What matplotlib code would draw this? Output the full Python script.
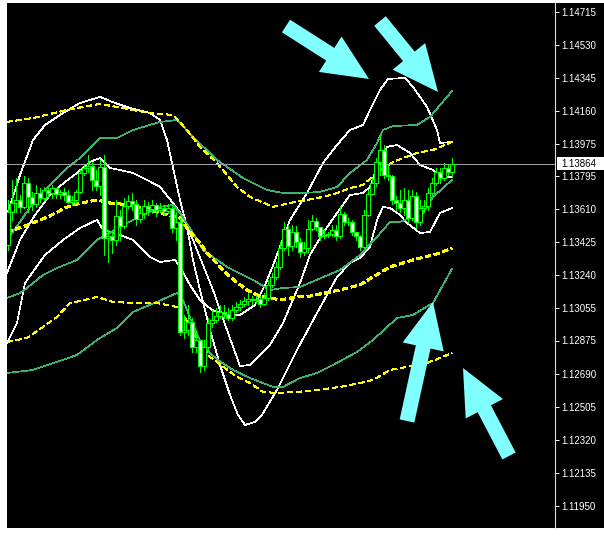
import numpy as np
import matplotlib
matplotlib.use('Agg')
import matplotlib.pyplot as plt
from matplotlib.patches import Rectangle, FancyArrow
from matplotlib.transforms import blended_transform_factory

# candles, one per bar (prices)
opens = [1.13410, 1.13595, 1.13645, 1.13662, 1.13623, 1.13757, 1.13679, 1.13640, 1.13701, 1.13673,
         1.13718, 1.13701, 1.13729, 1.13696, 1.13707, 1.13690, 1.13651, 1.13662, 1.13707, 1.13813,
         1.13841, 1.13852, 1.13774, 1.13740, 1.13847, 1.13449, 1.13460, 1.13438, 1.13572, 1.13516,
         1.13628, 1.13656, 1.13640, 1.13556, 1.13589, 1.13628, 1.13612, 1.13634, 1.13606, 1.13617,
         1.13600, 1.13617, 1.13505, 1.13539, 1.12923, 1.12934, 1.12979, 1.12839, 1.12878, 1.12732,
         1.12839, 1.12973, 1.12990, 1.13012, 1.13035, 1.13024, 1.13001, 1.13046, 1.13063, 1.13080,
         1.13096, 1.13108, 1.13102, 1.13108, 1.13080, 1.13113, 1.13186, 1.13231, 1.13287, 1.13393,
         1.13500, 1.13404, 1.13483, 1.13427, 1.13371, 1.13393, 1.13500, 1.13544, 1.13511, 1.13460,
         1.13466, 1.13472, 1.13494, 1.13460, 1.13584, 1.13539, 1.13539, 1.13483, 1.13460, 1.13399,
         1.13578, 1.13696, 1.13757, 1.13875, 1.13942, 1.13802, 1.13796, 1.13662, 1.13645, 1.13617,
         1.13662, 1.13561, 1.13684, 1.13539, 1.13617, 1.13628, 1.13701, 1.13757, 1.13819, 1.13785,
         1.13841, 1.13819]
closes = [1.13595, 1.13645, 1.13662, 1.13623, 1.13757, 1.13679, 1.13640, 1.13701, 1.13673, 1.13718,
          1.13701, 1.13729, 1.13696, 1.13707, 1.13690, 1.13651, 1.13662, 1.13707, 1.13813, 1.13841,
          1.13852, 1.13774, 1.13740, 1.13847, 1.13449, 1.13460, 1.13438, 1.13572, 1.13516, 1.13628,
          1.13656, 1.13640, 1.13556, 1.13589, 1.13628, 1.13612, 1.13634, 1.13606, 1.13617, 1.13600,
          1.13617, 1.13505, 1.13539, 1.12923, 1.12934, 1.12979, 1.12839, 1.12878, 1.12732, 1.12839,
          1.12973, 1.12990, 1.13012, 1.13035, 1.13024, 1.13001, 1.13046, 1.13063, 1.13080, 1.13096,
          1.13108, 1.13102, 1.13108, 1.13080, 1.13113, 1.13186, 1.13231, 1.13287, 1.13393, 1.13500,
          1.13404, 1.13483, 1.13427, 1.13371, 1.13393, 1.13500, 1.13544, 1.13511, 1.13460, 1.13466,
          1.13472, 1.13494, 1.13460, 1.13584, 1.13539, 1.13539, 1.13483, 1.13460, 1.13399, 1.13578,
          1.13696, 1.13757, 1.13875, 1.13942, 1.13802, 1.13796, 1.13662, 1.13645, 1.13617, 1.13662,
          1.13561, 1.13684, 1.13539, 1.13617, 1.13628, 1.13701, 1.13757, 1.13819, 1.13785, 1.13841,
          1.13819, 1.13864]
highs = [1.13662, 1.13774, 1.13785, 1.13690, 1.13796, 1.13785, 1.13707, 1.13746, 1.13729, 1.13735,
         1.13735, 1.13746, 1.13718, 1.13718, 1.13729, 1.13718, 1.13684, 1.13718, 1.13830, 1.13858,
         1.13914, 1.13875, 1.13830, 1.13886, 1.13914, 1.13494, 1.13483, 1.13662, 1.13606, 1.13673,
         1.13690, 1.13701, 1.13662, 1.13617, 1.13662, 1.13651, 1.13662, 1.13645, 1.13645, 1.13634,
         1.13640, 1.13628, 1.13595, 1.13561, 1.13018, 1.13074, 1.13001, 1.12934, 1.12850, 1.12878,
         1.13001, 1.13046, 1.13057, 1.13074, 1.13074, 1.13057, 1.13074, 1.13091, 1.13102, 1.13119,
         1.13141, 1.13124, 1.13130, 1.13124, 1.13141, 1.13214, 1.13253, 1.13315, 1.13427, 1.13539,
         1.13522, 1.13522, 1.13516, 1.13449, 1.13427, 1.13550, 1.13578, 1.13561, 1.13505, 1.13494,
         1.13483, 1.13522, 1.13522, 1.13628, 1.13595, 1.13561, 1.13550, 1.13483, 1.13466, 1.13606,
         1.13718, 1.13785, 1.13897, 1.14026, 1.13970, 1.13858, 1.13802, 1.13684, 1.13718, 1.13729,
         1.13718, 1.13718, 1.13707, 1.13662, 1.13662, 1.13729, 1.13785, 1.13841, 1.13841, 1.13869,
         1.13858, 1.13897]
lows = [1.13382, 1.13550, 1.13595, 1.13595, 1.13617, 1.13595, 1.13606, 1.13623, 1.13651, 1.13662,
        1.13679, 1.13673, 1.13673, 1.13673, 1.13662, 1.13645, 1.13634, 1.13645, 1.13701, 1.13802,
        1.13819, 1.13718, 1.13718, 1.13690, 1.13354, 1.13315, 1.13365, 1.13410, 1.13438, 1.13505,
        1.13617, 1.13606, 1.13522, 1.13539, 1.13561, 1.13578, 1.13589, 1.13572, 1.13595, 1.13578,
        1.13589, 1.13483, 1.13438, 1.12906, 1.12889, 1.12906, 1.12811, 1.12811, 1.12699, 1.12710,
        1.12822, 1.12951, 1.12979, 1.13001, 1.13001, 1.12990, 1.12990, 1.13035, 1.13046, 1.13068,
        1.13074, 1.13080, 1.13085, 1.13063, 1.13074, 1.13102, 1.13175, 1.13220, 1.13276, 1.13382,
        1.13354, 1.13382, 1.13399, 1.13343, 1.13354, 1.13371, 1.13494, 1.13494, 1.13438, 1.13449,
        1.13455, 1.13460, 1.13438, 1.13449, 1.13522, 1.13522, 1.13466, 1.13438, 1.13382, 1.13393,
        1.13572, 1.13690, 1.13740, 1.13802, 1.13785, 1.13774, 1.13640, 1.13606, 1.13595, 1.13578,
        1.13539, 1.13550, 1.13505, 1.13522, 1.13595, 1.13606, 1.13690, 1.13746, 1.13757, 1.13774,
        1.13802, 1.13791]

# band lines: bar positions and prices
yellow_up_x = [-0.25, 6.25, 14.75, 18.75, 23, 27.25, 31.25, 35.5, 41.25, 44.75, 48, 52.25, 57.25,
               60.5, 66.25, 70.5, 74.75, 78.75, 82.25, 85.5, 88.75, 92.25, 96.25, 102.25, 106.25, 111]
yellow_up = [1.14099, 1.14121, 1.14166, 1.14183, 1.14200, 1.14183, 1.14166, 1.14149, 1.14138, 1.14054,
             1.13959, 1.13869, 1.13735, 1.13679, 1.13623, 1.13645, 1.13662, 1.13679, 1.13701, 1.13729,
             1.13746, 1.13813, 1.13875, 1.13925, 1.13942, 1.13987]
yellow_mid_x = [-0.25, 4.25, 8, 10, 14.25, 16.25, 19.75, 22.25, 25.5, 30.5, 38, 43, 45.5, 48, 49.75,
                53.75, 55.5, 59.75, 62.25, 68, 72.25, 75.5, 83, 88, 91.25, 95.5, 101.25, 108, 111]
yellow_mid = [1.13483, 1.13516, 1.13550, 1.13567, 1.13617, 1.13634, 1.13651, 1.13662, 1.13645, 1.13634,
              1.13589, 1.13561, 1.13483, 1.13421, 1.13365, 1.13270, 1.13231, 1.13158, 1.13130, 1.13102,
              1.13119, 1.13124, 1.13158, 1.13186, 1.13231, 1.13287, 1.13326, 1.13365, 1.13393]
yellow_low_x = [-0.25, 4.75, 8.75, 12.25, 15.5, 18, 22.25, 26.25, 31.25, 37.25, 42.25, 44.25, 46.75,
                50.5, 52.25, 57.25, 60.5, 63.75, 67.25, 72.25, 77.25, 83, 88, 91.25, 95.5, 99.75,
                104.75, 108, 111]
yellow_low = [1.12867, 1.12889, 1.12951, 1.13007, 1.13085, 1.13096, 1.13119, 1.13091, 1.13085, 1.13085,
              1.13063, 1.13001, 1.12906, 1.12783, 1.12755, 1.12671, 1.12637, 1.12587, 1.12581, 1.12587,
              1.12598, 1.12615, 1.12637, 1.12654, 1.12710, 1.12727, 1.12749, 1.12777, 1.12805]

green_up_x = [-0.25, 3, 6.75, 10.5, 14.75, 18, 23, 27.25, 31.25, 38, 42.25, 46.25, 52.25, 58.75,
              64.75, 68.75, 73.75, 78, 82.25, 85.5, 89.75, 92.25, 93.75, 96.25, 102.25, 105.5, 111]
green_up = [1.13438, 1.13539, 1.13662, 1.13746, 1.13841, 1.13897, 1.14009, 1.14009, 1.14054, 1.14099,
            1.14110, 1.14015, 1.13886, 1.13785, 1.13718, 1.13701, 1.13701, 1.13707, 1.13735, 1.13813,
            1.13886, 1.13981, 1.14054, 1.14076, 1.14082, 1.14127, 1.14272]
green_mid_x = [-0.25, 3, 4.75, 8.75, 12.25, 17.25, 22.25, 29.75, 38, 41.25, 43, 46.25, 48.75, 54.75,
               61.25, 65.5, 68.75, 73, 83, 88, 92.25, 95.5, 98, 103.75, 106.25, 111]
green_mid = [1.13113, 1.13141, 1.13169, 1.13242, 1.13281, 1.13326, 1.13438, 1.13533, 1.13623, 1.13634,
             1.13589, 1.13477, 1.13382, 1.13287, 1.13214, 1.13158, 1.13169, 1.13175, 1.13270, 1.13354,
             1.13455, 1.13539, 1.13539, 1.13589, 1.13679, 1.13774]
green_low_x = [-0.25, 6.25, 12.25, 17.25, 22.25, 27.25, 31.25, 37.25, 42.25, 43.75, 46.25, 48.75,
               52.5, 56.25, 60.5, 66.25, 68.75, 73, 77.25, 81.25, 87.25, 91.25, 97.25, 101.25, 106.25, 111]
green_low = [1.12693, 1.12710, 1.12755, 1.12794, 1.12878, 1.12945, 1.13035, 1.13091, 1.13141, 1.13102,
             1.12962, 1.12839, 1.12766, 1.12710, 1.12665, 1.12615, 1.12615, 1.12665, 1.12693, 1.12738,
             1.12811, 1.12878, 1.13001, 1.13018, 1.13085, 1.13276]

white_a_x = [-0.25, 3, 6.25, 9.25, 13, 18, 23, 26.75, 30.5, 35.5, 38, 39.75, 41, 43, 44.75, 46.25, 48,
             50.5, 53, 55.5, 57.5, 59.25, 61.75, 63.5, 67.25, 72.25, 77.25, 82.25, 85.5, 88, 90.5,
             92.25, 93.75, 95.5, 98, 99.75, 103, 105.5, 108, 111]
white_a = [1.13578, 1.13802, 1.13998, 1.14082, 1.14138, 1.14205, 1.14239, 1.14205, 1.14177, 1.14149,
           1.14110, 1.13998, 1.13869, 1.13662, 1.13511, 1.13326, 1.13158, 1.12934, 1.12738, 1.12570,
           1.12458, 1.12402, 1.12419, 1.12458, 1.12598, 1.12822, 1.13029, 1.13231, 1.13309, 1.13337,
           1.13399, 1.13550, 1.13623, 1.13617, 1.13578, 1.13533, 1.13477, 1.13483, 1.13589, 1.13617]
white_b_x = [-0.25, 3, 6.75, 10.5, 14.25, 17.25, 20.5, 23, 25.5, 28, 31.25, 34.75, 38, 41.25, 43.5,
             46.25, 48.75, 51.25, 54.75, 58, 60.5, 63, 65.5, 68.75, 73, 75.5, 78.75, 82.25, 85.5,
             88.75, 90.5, 93, 94.75, 97.25, 100.5, 103, 106.25, 108, 111]
white_b = [1.13253, 1.13438, 1.13578, 1.13690, 1.13763, 1.13813, 1.13875, 1.13897, 1.13841, 1.13830,
           1.13813, 1.13774, 1.13735, 1.13645, 1.13578, 1.13438, 1.13298, 1.13158, 1.12934, 1.12732,
           1.12738, 1.12794, 1.12850, 1.12973, 1.13197, 1.13354, 1.13477, 1.13589, 1.13690, 1.13701,
           1.13735, 1.13886, 1.13959, 1.13970, 1.13925, 1.13858, 1.13830, 1.13785, 1.13791]
white_c_x = [-0.25, 2.25, 4.25, 9.25, 13.75, 18, 22.25, 23.75, 28, 31.25, 35.5, 38, 41.75, 43, 45.5,
             48, 51, 54.25, 58, 61.75, 64.25, 66, 68, 70.5, 74.75, 78.75, 82.25, 85.5, 88.75, 90.5,
             93, 95, 99.25, 101.25, 104.75, 107.25, 108, 111]
white_c = [1.12861, 1.12973, 1.13197, 1.13354, 1.13438, 1.13505, 1.13550, 1.13494, 1.13466, 1.13438,
           1.13343, 1.13315, 1.13326, 1.13287, 1.13186, 1.13102, 1.13046, 1.13018, 1.13018, 1.13074,
           1.13186, 1.13281, 1.13399, 1.13550, 1.13701, 1.13869, 1.13970, 1.14054, 1.14082, 1.14166,
           1.14278, 1.14340, 1.14345, 1.14295, 1.14183, 1.14054, 1.13981, 1.13987]

price_ticks = [1.14715, 1.14530, 1.14345, 1.14160, 1.13975, 1.13795, 1.13610, 1.13425,
               1.13240, 1.13055, 1.12875, 1.12690, 1.12505, 1.12320, 1.12135, 1.11950]
last_price = 1.13864

W, H = 604, 536
fig = plt.figure(figsize=(W / 100, H / 100), dpi=100)
fig.patch.set_facecolor('white')
fig.patches.append(Rectangle((7 / W, 8 / H), 597 / W, 525 / H, transform=fig.transFigure,
                             facecolor='black', edgecolor='none', zorder=-5))

ax = fig.add_axes([7 / W, 8 / H, 548 / W, 525 / H])
ax.set_facecolor('black')
ax.set_xlim(-0.25, 136.75)
ax.set_ylim(1.11825, 1.14765)

px = 0.5  # thin crisp lines
green = '#3CB371'
for xs, ys in [(white_a_x, white_a), (white_b_x, white_b), (white_c_x, white_c)]:
    ax.plot(xs, ys, color='white', lw=px, antialiased=False)
for xs, ys in [(green_up_x, green_up), (green_mid_x, green_mid), (green_low_x, green_low)]:
    ax.plot(xs, ys, color=green, lw=px, antialiased=False)
for xs, ys, w in [(yellow_up_x, yellow_up, px), (yellow_mid_x, yellow_mid, 1.2),
                  (yellow_low_x, yellow_low, px)]:
    ax.plot(xs, ys, color='yellow', lw=w, dashes=(4.0 / w, 2.6 / w), antialiased=False)

ax.axhline(last_price, color='#a0a0a8', lw=px, antialiased=False)

# candles
for i in range(len(closes)):
    o, c, h, l = opens[i], closes[i], highs[i], lows[i]
    ax.plot([i, i], [l, h], color='#00FF00', lw=px, solid_capstyle='butt', zorder=3,
            antialiased=False)
    face = 'black' if c >= o else 'white'
    ax.add_patch(Rectangle((i - 0.38, min(o, c)), 0.76, abs(c - o), facecolor=face,
                           edgecolor='#00FF00', lw=px, zorder=4, antialiased=False))

for s in ['left', 'top', 'bottom']:
    ax.spines[s].set_visible(False)
ax.spines['right'].set_color('#dddddd')
ax.spines['right'].set_linewidth(0.8)
ax.set_xticks([])
ax.yaxis.tick_right()
ax.set_yticks(price_ticks)
ax.set_yticklabels(['%.5f' % v for v in price_ticks])
ax.tick_params(axis='y', colors='white', direction='out', length=3, width=0.7, pad=1.5,
               labelsize=7)
for t in ax.get_yticklabels():
    t.set_fontfamily('Liberation Sans')

# last price marker on the scale
trans = blended_transform_factory(fig.transFigure, ax.transData)
fig.patches.append(Rectangle((557 / W, last_price - 0.00037), 47 / W, 0.00074, transform=trans,
                             facecolor='white', edgecolor='none', zorder=2))
fig.text(561 / W, last_price, '%.5f' % last_price, transform=trans, ha='left', va='center',
         fontsize=7, family='Liberation Sans', color='black', zorder=3)

# cyan arrows on top
ov = fig.add_axes([0, 0, 1, 1])
ov.set_xlim(0, W)
ov.set_ylim(H, 0)
ov.axis('off')
arrows = [((286, 26), (369, 79)), ((380, 21), (438, 92)), ((407, 421), (433, 302)),
          ((509, 456), (463, 368))]
for (x0, y0), (x1, y1) in arrows:
    ov.add_patch(FancyArrow(x0, y0, x1 - x0, y1 - y0, width=15, head_width=42, head_length=46,
                            length_includes_head=True, color='#80FFFF', lw=0))

fig.savefig('out.png', dpi=100, facecolor='white')
